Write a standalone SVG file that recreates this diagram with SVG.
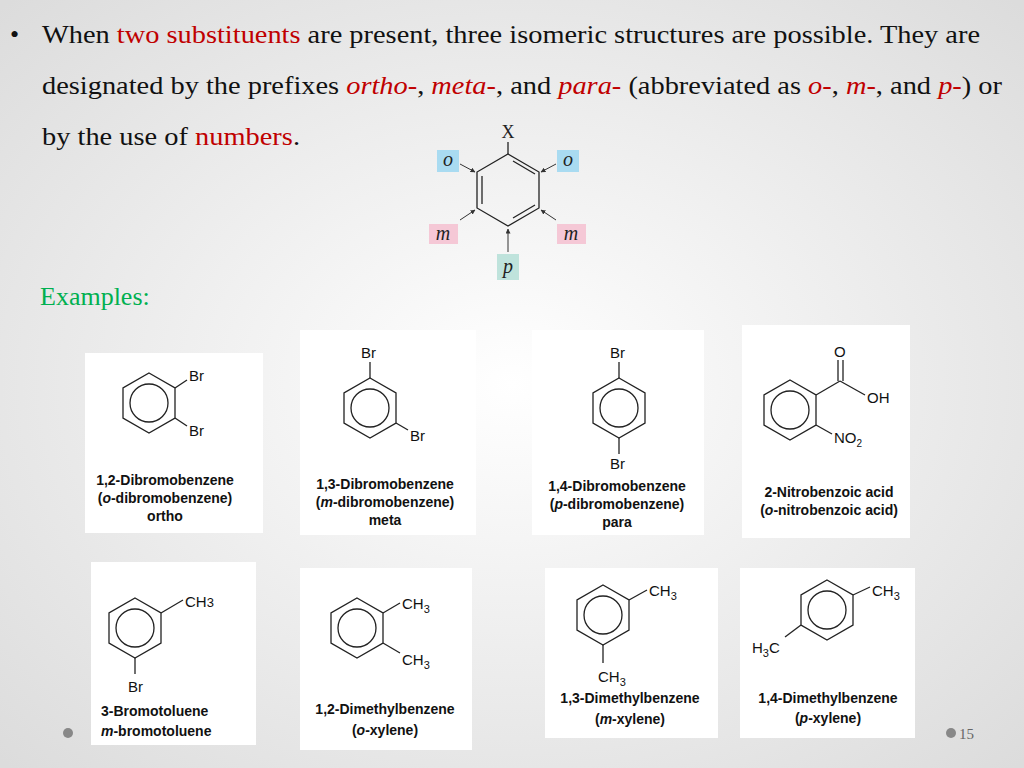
<svg xmlns="http://www.w3.org/2000/svg" width="1024" height="768" viewBox="0 0 1024 768">
<defs>
<radialGradient id="bg" cx="50%" cy="50%" r="70%"><stop offset="0" stop-color="#ffffff"/><stop offset="1" stop-color="#dcdcdc"/></radialGradient>
<marker id="ah" viewBox="0 0 10 10" refX="9" refY="5" markerWidth="5" markerHeight="5" orient="auto"><path d="M0,0L10,5L0,10z" fill="#333"/></marker>
<g id="hex"><polygon points="0,-30 26,-15 26,15 0,30 -26,15 -26,-15" fill="none" stroke="#222" stroke-width="1.3"/><circle r="19" fill="none" stroke="#222" stroke-width="1.3"/></g>
</defs>
<style>
.t{font-family:"Liberation Serif",serif;font-size:26px;fill:#111}
.r{fill:#c00000}
.i{font-style:italic}
.c{font-family:"Liberation Sans",Arial,sans-serif;font-size:15px;fill:#111}
.b{font-family:"Liberation Sans",Arial,sans-serif;font-size:14px;font-weight:bold;fill:#111;text-anchor:middle}
.bd{stroke:#222;stroke-width:1.3;fill:none}
.panel{fill:#fff}
.lab{font-family:"Liberation Serif",serif;font-style:italic;font-size:20px;fill:#222;text-anchor:middle}
</style>
<rect width="1024" height="768" fill="url(#bg)"/>
<text class="t" x="10" y="43">•</text>
<text class="t" x="42" y="43" textLength="938" lengthAdjust="spacingAndGlyphs">When <tspan class="r">two substituents</tspan> are present, three isomeric structures are possible. They are</text>
<text class="t" x="42" y="94" textLength="960" lengthAdjust="spacingAndGlyphs">designated by the prefixes <tspan class="r i">ortho-</tspan>, <tspan class="r i">meta-</tspan>, and <tspan class="r i">para-</tspan> (abbreviated as <tspan class="r i">o-</tspan>, <tspan class="r i">m-</tspan>, and <tspan class="r i">p-</tspan>) or</text>
<text class="t" x="42" y="145" textLength="258" lengthAdjust="spacingAndGlyphs">by the use of <tspan class="r">numbers</tspan>.</text>
<text class="t" x="40" y="305" style="fill:#00b050">Examples:</text>

<g id="isomer-key">
<polygon points="508,154 539,172 539,208 508,226 477,208 477,172" class="bd"/>
<line x1="513" y1="161" x2="535" y2="174" class="bd"/>
<line x1="535" y1="205" x2="513" y2="218" class="bd"/>
<line x1="482" y1="176" x2="482" y2="204" class="bd"/>
<line x1="508" y1="154" x2="508" y2="142" class="bd"/>
<text x="508" y="138" text-anchor="middle" style="font-family:'Liberation Serif',serif;font-size:18px;fill:#222">X</text>
<rect x="437" y="150" width="22" height="22" fill="#a9dbf1"/><text class="lab" x="448" y="166">o</text>
<rect x="557" y="150" width="22" height="22" fill="#a9dbf1"/><text class="lab" x="568" y="166">o</text>
<rect x="429" y="224" width="29" height="20" fill="#f5c8d6"/><text class="lab" x="443" y="240">m</text>
<rect x="557" y="224" width="29" height="20" fill="#f5c8d6"/><text class="lab" x="571" y="240">m</text>
<rect x="497" y="254" width="22" height="26" fill="#bfe3dc"/><text class="lab" x="508" y="273">p</text>
</g>
<g id="connectors">
<line x1="460" y1="164" x2="475" y2="172" stroke="#333" marker-end="url(#ah)"/>
<line x1="556" y1="164" x2="541" y2="172" stroke="#333" marker-end="url(#ah)"/>
<line x1="460" y1="220" x2="475" y2="210" stroke="#333" marker-end="url(#ah)"/>
<line x1="556" y1="220" x2="541" y2="210" stroke="#333" marker-end="url(#ah)"/>
<line x1="508" y1="252" x2="508" y2="229" stroke="#333" marker-end="url(#ah)"/>
</g>

<g id="ortho">
<rect class="panel" x="85" y="353" width="178" height="180"/>
<use href="#hex" x="149" y="403"/>
<line x1="175" y1="388" x2="187" y2="380" class="bd"/><line x1="175" y1="418" x2="187" y2="426" class="bd"/>
<text class="c" x="189" y="381">Br</text><text class="c" x="189" y="436">Br</text>
<text class="b" x="165" y="485">1,2-Dibromobenzene</text>
<text class="b" x="165" y="503">(<tspan font-style="italic">o</tspan>-dibromobenzene)</text>
<text class="b" x="165" y="521">ortho</text>
</g>
<g id="meta">
<rect class="panel" x="300" y="330" width="176" height="205"/>
<use href="#hex" x="370" y="408"/>
<line x1="370" y1="378" x2="370" y2="362" class="bd"/><line x1="396" y1="423" x2="408" y2="430" class="bd"/>
<text class="c" x="361" y="358">Br</text><text class="c" x="410" y="441">Br</text>
<text class="b" x="385" y="489">1,3-Dibromobenzene</text>
<text class="b" x="385" y="507">(<tspan font-style="italic">m</tspan>-dibromobenzene)</text>
<text class="b" x="385" y="525">meta</text>
</g>
<g id="para">
<rect class="panel" x="532" y="330" width="172" height="205"/>
<use href="#hex" x="619" y="408"/>
<line x1="619" y1="378" x2="619" y2="362" class="bd"/><line x1="619" y1="438" x2="619" y2="454" class="bd"/>
<text class="c" x="610" y="358">Br</text><text class="c" x="610" y="469">Br</text>
<text class="b" x="617" y="491">1,4-Dibromobenzene</text>
<text class="b" x="617" y="509">(<tspan font-style="italic">p</tspan>-dibromobenzene)</text>
<text class="b" x="617" y="527">para</text>
</g>
<g id="nitrobenzoic">
<rect class="panel" x="742" y="325" width="168" height="213"/>
<use href="#hex" x="790" y="410"/>
<line x1="816" y1="395" x2="840" y2="381" class="bd"/>
<line x1="838" y1="381" x2="838" y2="360" class="bd"/><line x1="843" y1="381" x2="843" y2="360" class="bd"/>
<line x1="840" y1="381" x2="865" y2="395" class="bd"/>
<line x1="816" y1="425" x2="832" y2="434" class="bd"/>
<text class="c" x="834" y="357">O</text><text class="c" x="867" y="403">OH</text>
<text class="c" x="834" y="443">NO<tspan font-size="10" dy="4">2</tspan></text>
<text class="b" x="829" y="497">2-Nitrobenzoic acid</text>
<text class="b" x="829" y="515">(<tspan font-style="italic">o</tspan>-nitrobenzoic acid)</text>
</g>

<g id="bromotoluene">
<rect class="panel" x="91" y="562" width="165" height="183"/>
<use href="#hex" x="135" y="628"/>
<line x1="161" y1="613" x2="183" y2="600" class="bd"/><line x1="135" y1="658" x2="135" y2="674" class="bd"/>
<text class="c" x="185" y="607" font-size="18">CH<tspan font-size="13">3</tspan></text>
<text class="c" x="128" y="692" font-size="18">Br</text>
<text class="b" x="101" y="716" font-size="16" style="text-anchor:start">3-Bromotoluene</text>
<text class="b" x="101" y="736" font-size="16" style="text-anchor:start"><tspan font-style="italic">m</tspan>-bromotoluene</text>
</g>
<g id="o-xylene">
<rect class="panel" x="300" y="568" width="172" height="182"/>
<use href="#hex" x="357" y="628"/>
<line x1="383" y1="613" x2="400" y2="603" class="bd"/><line x1="383" y1="643" x2="400" y2="653" class="bd"/>
<text class="c" x="402" y="609" font-size="17">CH<tspan font-size="11" dy="4">3</tspan></text>
<text class="c" x="402" y="665" font-size="17">CH<tspan font-size="11" dy="4">3</tspan></text>
<text class="b" x="385" y="714" font-size="15">1,2-Dimethylbenzene</text>
<text class="b" x="385" y="735" font-size="15">(<tspan font-style="italic">o</tspan>-xylene)</text>
</g>
<g id="m-xylene">
<rect class="panel" x="545" y="568" width="173" height="170"/>
<use href="#hex" x="603" y="615"/>
<line x1="629" y1="600" x2="647" y2="590" class="bd"/><line x1="603" y1="645" x2="603" y2="663" class="bd"/>
<text class="c" x="649" y="596" font-size="17">CH<tspan font-size="11" dy="4">3</tspan></text>
<text class="c" x="598" y="682" font-size="17">CH<tspan font-size="11" dy="4">3</tspan></text>
<text class="b" x="630" y="703" font-size="15">1,3-Dimethylbenzene</text>
<text class="b" x="630" y="724" font-size="15">(<tspan font-style="italic">m</tspan>-xylene)</text>
</g>
<g id="p-xylene">
<rect class="panel" x="740" y="568" width="175" height="170"/>
<use href="#hex" x="827" y="610"/>
<line x1="853" y1="595" x2="870" y2="587" class="bd"/><line x1="801" y1="625" x2="785" y2="637" class="bd"/>
<text class="c" x="872" y="596" font-size="17">CH<tspan font-size="11" dy="4">3</tspan></text>
<text class="c" x="752" y="653" font-size="17">H<tspan font-size="11" dy="4">3</tspan><tspan dy="-4">C</tspan></text>
<text class="b" x="828" y="703" font-size="15">1,4-Dimethylbenzene</text>
<text class="b" x="828" y="723" font-size="15">(<tspan font-style="italic">p</tspan>-xylene)</text>
</g>

<circle cx="68" cy="733" r="5" fill="#888"/>
<circle cx="951" cy="733" r="5" fill="#888"/>
<text x="959" y="739" style="font-family:'Liberation Serif',serif;font-size:15px;fill:#666">15</text>
</svg>
